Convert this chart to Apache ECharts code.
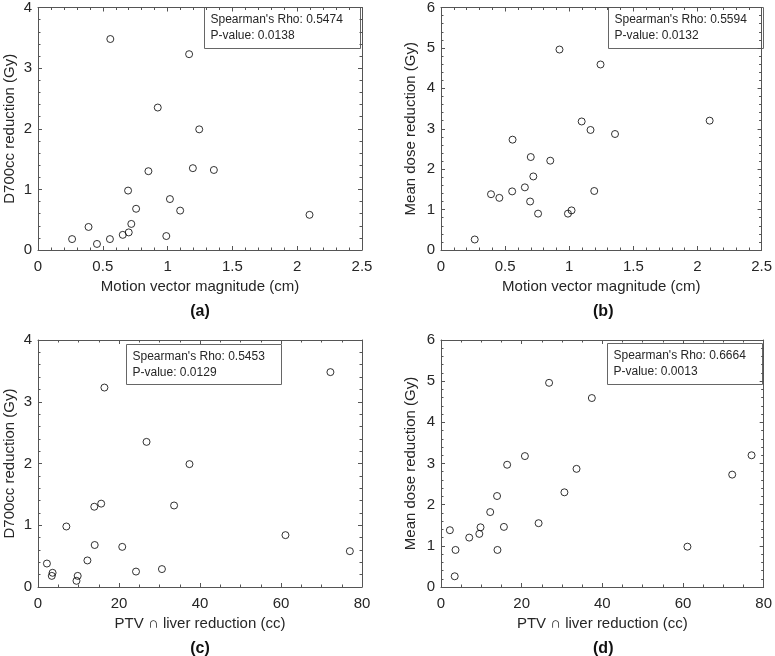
<!DOCTYPE html>
<html><head><meta charset="utf-8">
<script src="https://cdn.jsdelivr.net/npm/echarts@6/dist/echarts.min.js"></script>
<style>html,body{margin:0;padding:0;background:#fff}#c{width:775px;height:656px}</style>
</head><body><div id="c"></div>
<script>
// Per-patient values (20 patients)
const motion   = [0.39, 0.263, 0.99, 0.695, 0.455, 0.555, 0.72, 0.852, 0.757, 1.195, 1.166, 1.097, 0.654, 0.924, 0.70, 1.357, 1.244, 1.018, 0.558, 2.095];
const ptv      = [2.2, 3.4, 3.6, 7.0, 9.5, 9.8, 12.2, 13.9, 14.0, 15.6, 16.4, 20.8, 24.2, 26.8, 30.6, 33.6, 37.4, 61.1, 72.2, 77.0];
const d700     = [0.38, 0.18, 0.23, 0.98, 0.10, 0.18, 0.43, 1.30, 0.68, 1.35, 3.23, 0.65, 0.25, 2.35, 0.29, 1.32, 1.99, 0.84, 3.48, 0.58];
const meanDose = [1.38, 0.26, 0.90, 1.20, 1.29, 1.45, 1.82, 2.21, 0.90, 1.46, 2.97, 3.18, 1.55, 4.96, 2.30, 2.87, 4.59, 0.98, 2.73, 3.20];

const panelLabels = ['(a)', '(b)', '(c)', '(d)'];
const rhoValues = ['0.5474', '0.5594', '0.5453', '0.6664'];
const pValues = ['0.0138', '0.0132', '0.0129', '0.0013'];
const xTitles = ['Motion vector magnitude (cm)', 'Motion vector magnitude (cm)', 'PTV \u2229 liver reduction (cc)', 'PTV \u2229 liver reduction (cc)'];
const yTitles = ['D700cc reduction (Gy)', 'Mean dose reduction (Gy)', 'D700cc reduction (Gy)', 'Mean dose reduction (Gy)'];
const xMotionTicks = {min: 0, max: 2.5, interval: 0.5};
const xPtvTicks = {min: 0, max: 80, interval: 20};
const yD700Ticks = {min: 0, max: 4, interval: 1};
const yMeanTicks = {min: 0, max: 6, interval: 1};

const panels = [
  {x: motion, y: d700, xs: xMotionTicks, ys: yD700Ticks, xMinor: 5, yMinor: 5},
  {x: motion, y: meanDose, xs: xMotionTicks, ys: yMeanTicks, xMinor: 5, yMinor: 5},
  {x: ptv, y: d700, xs: xPtvTicks, ys: yD700Ticks, xMinor: 4, yMinor: 5},
  {x: ptv, y: meanDose, xs: xPtvTicks, ys: yMeanTicks, xMinor: 4, yMinor: 5}
];

const gridPos = [
  {left: 38, top: 4, width: 324, height: 246},
  {left: 441, top: 4, width: 324.5, height: 246},
  {left: 38, top: 340, width: 324, height: 247},
  {left: 441, top: 340, width: 324.5, height: 247}
];
const boxPos = [
  {x: 204, y: 7, w: 156, h: 41},
  {x: 608, y: 7, w: 155, h: 41},
  {x: 126, y: 344, w: 155, h: 40},
  {x: 607, y: 343, w: 155, h: 41}
];
const yNameGap = [21, 23, 21, 23];

const FONT = 'Liberation Sans, Arial, Helvetica, sans-serif';
const LINE = '#555';
const TXT = '#262626';

const grids = [], xAxes = [], yAxes = [], series = [], graphics = [];
panels.forEach((p, i) => {
  grids.push(Object.assign({containLabel: false}, gridPos[i]));
  const tickCommon = {show: true, inside: true, length: 4, lineStyle: {color: LINE, width: 1}};
  const minorCommon = (n) => ({show: true, splitNumber: n, length: 2.5, lineStyle: {color: LINE, width: 1}});
  const axLine = {show: true, onZero: false, lineStyle: {color: LINE, width: 1}};
  xAxes.push({
    type: 'value', gridIndex: i, position: 'bottom', min: p.xs.min, max: p.xs.max, interval: p.xs.interval,
    axisLine: axLine, axisTick: tickCommon, minorTick: minorCommon(p.xMinor), splitLine: {show: false},
    axisLabel: {color: TXT, fontSize: 15, fontFamily: FONT, margin: 9, showMaxLabel: true, showMinLabel: true},
    name: xTitles[i], nameLocation: 'middle', nameGap: 29,
    nameTextStyle: {color: TXT, fontSize: 15, fontFamily: FONT}
  });
  xAxes.push({
    type: 'value', gridIndex: i, position: 'top', min: p.xs.min, max: p.xs.max, interval: p.xs.interval,
    axisLine: axLine, axisTick: tickCommon, minorTick: minorCommon(p.xMinor), splitLine: {show: false},
    axisLabel: {show: false}
  });
  yAxes.push({
    type: 'value', gridIndex: i, position: 'left', min: p.ys.min, max: p.ys.max, interval: p.ys.interval,
    axisLine: axLine, axisTick: tickCommon, minorTick: minorCommon(p.yMinor), splitLine: {show: false},
    axisLabel: {color: TXT, fontSize: 15, fontFamily: FONT, margin: 6, showMaxLabel: true, showMinLabel: true},
    name: yTitles[i], nameLocation: 'middle', nameGap: yNameGap[i], nameRotate: 90,
    nameTextStyle: {color: TXT, fontSize: 15, fontFamily: FONT}
  });
  yAxes.push({
    type: 'value', gridIndex: i, position: 'right', min: p.ys.min, max: p.ys.max, interval: p.ys.interval,
    axisLine: axLine, axisTick: tickCommon, minorTick: minorCommon(p.yMinor), splitLine: {show: false},
    axisLabel: {show: false}
  });
  series.push({
    type: 'scatter', xAxisIndex: 2 * i, yAxisIndex: 2 * i,
    data: p.x.map((v, k) => [v, p.y[k]]),
    symbol: 'circle', symbolSize: 7,
    itemStyle: {color: 'rgba(255,255,255,0)', borderColor: '#000', borderWidth: 1},
    silent: true
  });
  const b = boxPos[i];
  graphics.push({
    type: 'group', left: b.x, top: b.y, z: 100,
    children: [
      {type: 'rect', shape: {x: 0, y: 0, width: b.w, height: b.h},
        style: {fill: '#fff', stroke: '#666', lineWidth: 1}},
      {type: 'text', x: 6, y: 12.5, style: {text: "Spearman's Rho: " + rhoValues[i], font: '12px ' + FONT,
        fill: TXT, verticalAlign: 'middle'}},
      {type: 'text', x: 6, y: 28, style: {text: 'P-value: ' + pValues[i], font: '12px ' + FONT,
        fill: TXT, verticalAlign: 'middle'}}
    ]
  });
  const g = gridPos[i];
  graphics.push({
    type: 'text', x: g.left + g.width / 2, y: g.top + g.height + 62, z: 100,
    style: {text: panelLabels[i], font: 'bold 16px ' + FONT, fill: '#111', align: 'center', verticalAlign: 'middle'}
  });
});

const chart = echarts.init(document.getElementById('c'), null, {renderer: 'canvas'});
chart.setOption({
  animation: false,
  backgroundColor: '#fff',
  grid: grids, xAxis: xAxes, yAxis: yAxes, series: series, graphic: graphics
});
</script>
</body></html>
